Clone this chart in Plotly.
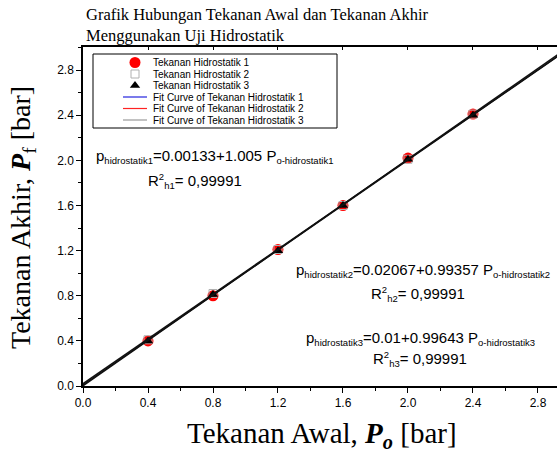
import plotly.graph_objects as go

# Initial pressure (bar)
p_awal = [0.4, 0.8, 1.2, 1.6, 2.0, 2.4]

# Final pressure (bar) for each hydrostatic test
hidro1 = [0.40, 0.80, 1.21, 1.60, 2.02, 2.41]
hidro2 = [0.41, 0.82, 1.21, 1.60, 2.01, 2.41]
hidro3 = [0.40, 0.81, 1.20, 1.60, 2.01, 2.40]

# Linear fit coefficients (intercept, slope)
fit1 = (0.00133, 1.005)
fit2 = (0.02067, 0.99357)
fit3 = (0.01, 0.99643)
fit_x = [0.0, 3.2]

tick_vals = [0, 0.4, 0.8, 1.2, 1.6, 2.0, 2.4, 2.8]
tick_text = ["0.0", "0.4", "0.8", "1.2", "1.6", "2.0", "2.4", "2.8"]

series_names = ["Tekanan Hidrostatik 1", "Tekanan Hidrostatik 2", "Tekanan Hidrostatik 3"]
fit_names = ["Fit Curve of Tekanan Hidrostatik 1", "Fit Curve of Tekanan Hidrostatik 2",
             "Fit Curve of Tekanan Hidrostatik 3"]

serif = "Liberation Serif"
sans = "Liberation Sans"

W, H = 557, 452
ML, MT, MB = 83, 47, 66
PW, PH = W - ML, H - MT - MB

marker_styles = [
    dict(symbol="circle", size=11, color="#ff0000"),
    dict(symbol="square-open", size=8, color="#b0b0b0", line=dict(width=1)),
    dict(symbol="triangle-up", size=9, color="#000000"),
]
fit_colors = ["#2222dd", "#ff2222", "#999999"]

fig = go.Figure()

for nm, ys, ms in zip(series_names, [hidro1, hidro2, hidro3], marker_styles):
    fig.add_trace(go.Scatter(x=p_awal, y=ys, mode="markers", name=nm, marker=ms))

# fitted lines (they overlap and read as one dark line)
for nm, (a, b) in zip(fit_names, (fit1, fit2, fit3)):
    fig.add_trace(go.Scatter(x=fit_x, y=[a + b * x for x in fit_x], mode="lines", name=nm,
                             line=dict(color="#111111", width=1.4), hoverinfo="skip"))

# top border axis with inward ticks
fig.add_trace(go.Scatter(x=[None], y=[None], xaxis="x2"))

# legend panel, laid out in page pixels (x3/y3 span the plot area in pixels)
leg_rows = [62.5, 74, 85.5, 97, 108.5, 120]
leg_sym_x = 135
leg_line = (123, 147)
leg_text_x = 151
for i, ms in enumerate(marker_styles):
    fig.add_trace(go.Scatter(x=[leg_sym_x], y=[leg_rows[i]], mode="markers", marker=ms,
                             xaxis="x3", yaxis="y3", hoverinfo="skip"))
for i, col in enumerate(fit_colors):
    fig.add_trace(go.Scatter(x=list(leg_line), y=[leg_rows[3 + i]] * 2, mode="lines",
                             line=dict(color=col, width=1.2), xaxis="x3", yaxis="y3",
                             hoverinfo="skip"))

annotations = []
for i, nm in enumerate(series_names + fit_names):
    annotations.append(dict(x=leg_text_x, y=leg_rows[i], xref="x3", yref="y3", text=nm,
                            showarrow=False, xanchor="left", yanchor="middle",
                            font=dict(family=sans, size=10, color="#000")))

sub = lambda t: f"<span style='font-size:9.5px'>{t}</span>"
# regression equations, placed in page pixels
eqs = [
    (94, 156, "p<sub>" + sub("hidrostatik1") + "</sub>=0.00133+1.005 P<sub>" + sub("o-hidrostatik1") + "</sub>"),
    (146, 181, "R<sup>" + sub("2") + "</sup><sub>" + sub("h1") + "</sub>= 0,99991"),
    (294, 270, "p<sub>" + sub("hidrostatik2") + "</sub>=0.02067+0.99357 P<sub>" + sub("o-hidrostatik2") + "</sub>"),
    (369, 294, "R<sup>" + sub("2") + "</sup><sub>" + sub("h2") + "</sub>= 0,99991"),
    (304, 338, "p<sub>" + sub("hidrostatik3") + "</sub>=0.01+0.99643 P<sub>" + sub("o-hidrostatik3") + "</sub>"),
    (371, 359, "R<sup>" + sub("2") + "</sup><sub>" + sub("h3") + "</sub>= 0,99991"),
]
for x, y, t in eqs:
    annotations.append(dict(x=x, y=y, xref="x3", yref="y3", text=t, showarrow=False,
                            xanchor="left", yanchor="middle",
                            font=dict(family=sans, size=15, color="#000")))

# chart title
annotations.append(dict(x=(84 - ML) / PW, y=(H - MB - 3) / PH, xref="paper", yref="paper",
                        text="Grafik Hubungan Tekanan Awal dan Tekanan Akhir<br>Menggunakan Uji Hidrostatik",
                        showarrow=False, xanchor="left", yanchor="top", align="left",
                        font=dict(family=serif, size=16.5, color="#000")))
# axis titles
annotations.append(dict(x=(322 - ML) / PW, y=(H - MB - 435) / PH, xref="paper", yref="paper",
                        text="Tekanan Awal, <b><i>P<sub>o</sub></i></b> [bar]",
                        showarrow=False, xanchor="center", yanchor="middle",
                        font=dict(family=serif, size=29, color="#000")))
annotations.append(dict(x=(22 - ML) / PW, y=(H - MB - 218) / PH, xref="paper", yref="paper",
                        text="Tekanan Akhir, <b><i>P</i></b><sub>f</sub> [bar]", textangle=-90,
                        showarrow=False, xanchor="center", yanchor="middle",
                        font=dict(family=serif, size=28, color="#000")))

axis_common = dict(showgrid=False, zeroline=False, showline=True, linecolor="black",
                   linewidth=1.5, tickcolor="black")

fig.update_layout(
    width=W, height=H,
    margin=dict(l=ML, r=0, t=MT, b=MB),
    paper_bgcolor="white", plot_bgcolor="white",
    showlegend=False,
    xaxis=dict(range=[0, 2.917], tickvals=tick_vals, ticktext=tick_text,
               ticks="outside", ticklen=5, tickwidth=1,
               minor=dict(ticks="outside", ticklen=3, tickcolor="black", dtick=0.2, tick0=0),
               tickfont=dict(family=sans, size=12, color="#000"), **axis_common),
    xaxis2=dict(range=[0, 2.917], overlaying="x", side="top", anchor="y",
                ticks="inside", ticklen=3, showticklabels=False, tickvals=tick_vals,
                **axis_common),
    yaxis=dict(range=[0, 3.005], tickvals=tick_vals, ticktext=tick_text,
               ticks="outside", ticklen=5, tickwidth=1,
               minor=dict(ticks="outside", ticklen=3, tickcolor="black", dtick=0.2, tick0=0),
               tickfont=dict(family=sans, size=12, color="#000"), **axis_common),
    xaxis3=dict(range=[ML, W], overlaying="x", anchor="y3", visible=False),
    yaxis3=dict(range=[H - MB, MT], overlaying="y", anchor="x3", visible=False),
    annotations=annotations,
    shapes=[dict(type="rect", xref="x3", yref="y3", x0=93, x1=337, y0=54, y1=128,
                 line=dict(color="black", width=1), fillcolor="rgba(0,0,0,0)", layer="below")],
)

fig.write_html("out.html")
